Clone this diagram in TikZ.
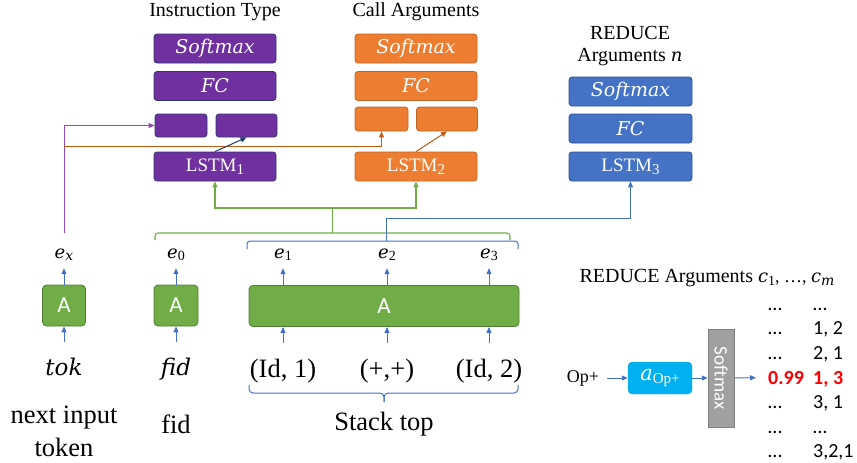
\RequirePackage{fix-cm}
\documentclass[tikz,border=0pt]{standalone}
\usepackage{fontspec}
\setmainfont{Liberation Serif}
\newfontfamily\calfont{Carlito}
\newfontfamily\dvs{DejaVu Serif}
\newcommand\mvar[1]{{\dvs\itshape #1}}
\newcommand\sbs[2][14]{\raisebox{-0.35ex}{\fontsize{#1}{#1}\selectfont #2}}
\usetikzlibrary{arrows.meta}
\definecolor{purp}{HTML}{7030A0}
\definecolor{purpbd}{HTML}{2F3370}
\definecolor{orng}{HTML}{ED7D31}
\definecolor{orngbd}{HTML}{C0652A}
\definecolor{blu}{HTML}{4472C4}
\definecolor{blubd}{HTML}{2F528F}
\definecolor{grn}{HTML}{70AD47}
\definecolor{grnbd}{HTML}{507E32}
\definecolor{cyn}{HTML}{00B0F0}
\definecolor{cynbd}{HTML}{41A6D8}
\definecolor{gry}{HTML}{A0A0A0}
\definecolor{grybd}{HTML}{7F7F7F}
\definecolor{purpln}{HTML}{9548C0}
\definecolor{orngln}{HTML}{C55A11}
\definecolor{navy}{HTML}{1F3A6E}
\begin{document}
\begin{tikzpicture}[x=1pt,y=-1pt,
    ttl/.style={font=\fontsize{20}{22}\selectfont, align=center, inner sep=0pt},
    box/.style={draw, rounded corners=3pt, line width=0.8pt, text=white, minimum height=29pt, inner sep=0pt, font=\fontsize{19}{22}\selectfont},
    pbox/.style={box, fill=purp, draw=purpbd},
    obox/.style={box, fill=orng, draw=orngbd},
    bbox/.style={box, fill=blu, draw=blubd},
    abox/.style={draw=grnbd, fill=grn, rounded corners=4pt, line width=0.8pt, text=white, minimum height=41pt, inner sep=0pt, font=\calfont\fontsize{23}{26}\selectfont},
    emb/.style={anchor=base, font=\fontsize{18}{22}\selectfont, text height=12pt, text depth=4pt, inner xsep=0pt, inner ysep=6pt},
    inp/.style={anchor=base, font=\fontsize{26.5}{30}\selectfont, inner sep=0pt},
    capt/.style={font=\fontsize{26.5}{33}\selectfont, align=center, inner sep=0pt},
    tab/.style={anchor=base west, font=\calfont\fontsize{20}{22}\selectfont, inner sep=0pt},
    hit/.style={tab, text=red, font=\calfont\bfseries\fontsize{20}{22}\selectfont},
    tip/.style={-{Triangle[length=6pt,width=5pt]}},
    barr/.style={tip, draw=blu, line width=0.9pt},
    inarr/.style={barr, shorten <=15pt},
    gline/.style={draw=grn, line width=1.1pt},
    bline/.style={draw=blu, line width=1pt},
]
    \useasboundingbox (0,0) rectangle (857,463);
    % heads
    \node[ttl] (tit1) at (215,12) {Instruction Type};
    \node[ttl] (tit2) at (416,12) {Call Arguments};
    \node[ttl] (tit3) at (630,46) {REDUCE\\Arguments {\fontsize{18}{22}\selectfont\mvar{n}}};
    \node[pbox, minimum width=122pt] (sm1) at (215,48.5) {\mvar{Softmax}};
    \node[pbox, minimum width=122pt] (fc1) at (215,86) {\mvar{FC}};
    \node[pbox, minimum width=52pt, minimum height=23pt] (pl) at (181,125.5) {};
    \node[pbox, minimum width=61pt, minimum height=23pt] (pr) at (246.5,125.5) {};
    \node[pbox, minimum width=122pt] (lstm1) at (215,166.5) {LSTM\sbs[15]{1}};
    \node[obox, minimum width=122pt] (sm2) at (416,48.5) {\mvar{Softmax}};
    \node[obox, minimum width=122pt] (fc2) at (416,86) {\mvar{FC}};
    \node[obox, minimum width=53pt, minimum height=24pt] (ol) at (381.5,119) {};
    \node[obox, minimum width=61pt, minimum height=24pt] (orr) at (447,119) {};
    \node[obox, minimum width=122pt] (lstm2) at (416,166.5) {LSTM\sbs[15]{2}};
    \node[bbox, minimum width=123pt] (sm3) at (630.5,91.5) {\mvar{Softmax}};
    \node[bbox, minimum width=123pt] (fc3) at (630.5,128.5) {\mvar{FC}};
    \node[bbox, minimum width=123pt] (lstm3) at (630.5,166.5) {LSTM\sbs[15]{3}};
    % embeddings
    \node[emb] (ex) at (64,258) {\mvar{e}\sbs{\mvar{x}}};
    \node[emb] (e0) at (176,258) {\mvar{e}\sbs{0}};
    \node[emb] (e1) at (283,258) {\mvar{e}\sbs{1}};
    \node[emb] (e2) at (387,258) {\mvar{e}\sbs{2}};
    \node[emb] (e3) at (489,258) {\mvar{e}\sbs{3}};
    \node[abox, minimum width=43pt] (ax) at (64,305.5) {A};
    \node[abox, minimum width=44pt] (a0) at (176,305.5) {A};
    \node[abox, minimum width=270pt] (ast) at (384,306) {A};
    \node[inp, font=\fontsize{23}{26}\selectfont] (tok) at (64,375) {\mvar{tok}};
    \node[inp, font=\fontsize{23}{26}\selectfont] (fid) at (176,375) {\mvar{fid}};
    \node[inp] (in1) at (283,377) {(Id, 1)};
    \node[inp] (in2) at (387,377) {(+,+)};
    \node[inp] (in3) at (489,377) {(Id, 2)};
    \node[capt] (cnext) at (64,431.5) {next input\\token};
    \node[capt, anchor=base] (cfid) at (176,433) {fid};
    \node[capt, anchor=base] (cstk) at (384,430) {Stack top};
    \draw[barr] (ax) -- (ex);
    \draw[barr] (a0) -- (e0);
    \draw[barr] (ast.north -| e1) -- (e1);
    \draw[barr] (ast.north -| e2) -- (e2);
    \draw[barr] (ast.north -| e3) -- (e3);
    \draw[inarr] (tok) -- (ax);
    \draw[inarr] (fid) -- (a0);
    \draw[inarr] (in1) -- (in1 |- ast.south);
    \draw[inarr] (in2) -- (in2 |- ast.south);
    \draw[inarr] (in3) -- (in3 |- ast.south);
    % brackets
    \draw[gline, rounded corners=3pt] (155,240) -- (155,233) -- (510,233) -- (510,240);
    \draw[bline, rounded corners=3pt] (247,249) -- (247,241) -- (518,241) -- (518,249);
    \draw[bline, rounded corners=4pt] (249,385) -- (249,393) -- (384,393) -- (384,402);
    \draw[bline, rounded corners=4pt] (518,385) -- (518,393) -- (384,393) -- (384,402);
    \coordinate (gtip) at (332.5,233);
    \coordinate (gjoin) at (332.5,208);
    \coordinate (btip) at (386,241);
    \coordinate (bturn) at (386,218);
    \coordinate (ox) at (64,146);
    % connectors
    \draw[gline] (gtip) -- (gjoin);
    \draw[gline, tip] (gjoin) -| (lstm1);
    \draw[gline, tip] (gjoin) -| (lstm2);
    \draw[bline] (btip) -- (bturn);
    \draw[bline, tip] (bturn) -| (lstm3);
    \draw[draw=purpln, line width=1pt, tip, shorten <=7pt] (ex) |- (pl);
    \draw[draw=orngln, line width=1pt, tip] (ox) -| (ol);
    \draw[draw=navy, line width=1pt, tip] (lstm1.north) -- (pr.south);
    \draw[draw=orngln, line width=1pt, tip] (lstm2.north) -- (orr.south);
    % reduce arguments
    \node[ttl] (tit4) at (707,278) {REDUCE Arguments {\fontsize{18}{22}\selectfont\mvar{c}\sbs{1}, …, \mvar{c}\sbs{\mvar{m}}}};
    \node[font=\fontsize{18}{20}\selectfont, inner sep=3pt] (op) at (583,378) {Op+};
    \node[draw=cynbd, fill=cyn, rounded corners=4pt, minimum width=64pt, minimum height=32pt, inner sep=0pt, text=white, font=\fontsize{21}{24}\selectfont] (aop) at (660,378) {\mvar{a}\sbs[15]{Op+}};
    \node[draw=grybd, fill=gry, minimum width=98pt, minimum height=26pt, inner sep=0pt, rotate=-90, text=white, font=\calfont\fontsize{19}{22}\selectfont] (smx) at (721,378) {Softmax};
    \node[tab] (r1a) at (768,310) {…};
    \node[tab] (r1b) at (813,310) {…};
    \node[tab] (r2a) at (768,334.5) {…};
    \node[tab] (r2b) at (813,334.5) {1, 2};
    \node[tab] (r3a) at (768,359) {…};
    \node[tab] (r3b) at (813,359) {2, 1};
    \node[hit] (p99) at (768,384) {0.99};
    \node[hit] (r4b) at (813,384) {1, 3};
    \node[tab] (r5a) at (768,408.5) {…};
    \node[tab] (r5b) at (813,408.5) {3, 1};
    \node[tab] (r6a) at (768,433) {…};
    \node[tab] (r6b) at (813,433) {…};
    \node[tab] (r7a) at (768,457) {…};
    \node[tab] (r7b) at (813,457) {3,2,1};
    \draw[barr, shorten <=5pt] (op) -- (aop);
    \draw[barr] (aop) -- (smx);
    \draw[barr, shorten >=12pt] (smx) -- (p99);
\end{tikzpicture}
\end{document}
